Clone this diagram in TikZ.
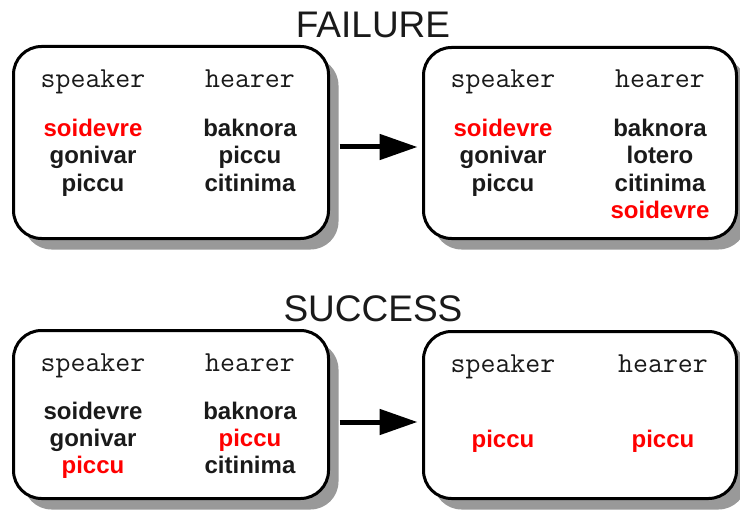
\documentclass[tikz,border=0pt]{standalone}
\usepackage{fontspec}
\setmainfont{Liberation Sans}
\usetikzlibrary{shadows,arrows.meta}
\definecolor{wred}{HTML}{FF0000}
\definecolor{wblack}{HTML}{1A1A1A}
\tikzset{
  box/.style={draw=black, line width=3pt, fill=white, rounded corners=28pt,
    inner sep=0pt, drop shadow={shadow xshift=10pt, shadow yshift=-11pt, fill=gray!80, opacity=1}},
  role/.style={anchor=base, inner sep=0pt, font=\ttfamily\fontsize{29}{30}\selectfont, text=wblack},
  word/.style={anchor=base, inner sep=0pt, font=\bfseries\fontsize{24}{27}\selectfont, text=wblack},
  hot/.style={word, text=wred},
  title/.style={anchor=base, inner sep=0pt, font=\fontsize{37}{40}\selectfont, text=wblack},
  conn/.style={line width=5pt, -{Triangle[length=38pt,width=25pt]}}
}
\begin{document}
\begin{tikzpicture}[x=1pt,y=-1pt]
\useasboundingbox[fill=white] (0,0) rectangle (740,511);
\clip (0,0) rectangle (740,511);
% titles
\node[title] (t1) at (373,38) {FAILURE};
\node[title] (t2) at (373,321) {SUCCESS};
% boxes
\node[box, minimum width=315pt, minimum height=192pt] (b1) at (171,142.5) {};
\node[box, minimum width=313pt, minimum height=191pt] (b2) at (580,143) {};
\node[box, minimum width=315pt, minimum height=168pt] (b3) at (171,414.5) {};
\node[box, minimum width=313pt, minimum height=167pt] (b4) at (580,415) {};
% box 1
\node[role] (s1) at (93,88) {speaker};
\node[role] (h1) at (250,88) {hearer};
\node[hot]  (s1a) at (93,137) {soidevre};
\node[word] (s1b) at (93,164) {gonivar};
\node[word] (s1c) at (93,191) {piccu};
\node[word] (h1a) at (250,137) {baknora};
\node[word] (h1b) at (250,164) {piccu};
\node[word] (h1c) at (250,191) {citinima};
% box 2
\node[role] (s2) at (503,88) {speaker};
\node[role] (h2) at (660,88) {hearer};
\node[hot]  (s2a) at (503,137) {soidevre};
\node[word] (s2b) at (503,164) {gonivar};
\node[word] (s2c) at (503,191) {piccu};
\node[word] (h2a) at (660,137) {baknora};
\node[word] (h2b) at (660,164) {lotero};
\node[word] (h2c) at (660,191) {citinima};
\node[hot]  (h2d) at (660,218) {soidevre};
% box 3
\node[role] (s3) at (93,371) {speaker};
\node[role] (h3) at (250,371) {hearer};
\node[word] (s3a) at (93,419) {soidevre};
\node[word] (s3b) at (93,446) {gonivar};
\node[hot]  (s3c) at (93,473) {piccu};
\node[word] (h3a) at (250,419) {baknora};
\node[hot]  (h3b) at (250,446) {piccu};
\node[word] (h3c) at (250,473) {citinima};
% box 4
\node[role] (s4) at (503,372) {speaker};
\node[role] (h4) at (663,372) {hearer};
\node[hot]  (s4a) at (503,447) {piccu};
\node[hot]  (h4a) at (663,447) {piccu};
% arrows
\draw[conn] ([shift={(9.5,4.5)}]b1.east) -- ([shift={(-4.5,4)}]b2.west);
\draw[conn] ([shift={(9.5,7.5)}]b3.east) -- ([shift={(-4.5,7)}]b4.west);
\end{tikzpicture}
\end{document}
